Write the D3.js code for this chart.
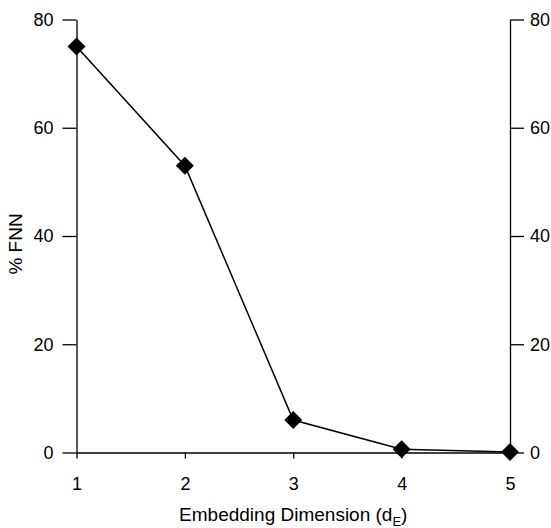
<!DOCTYPE html>
<html>
<head>
<meta charset="utf-8">
<script src="https://cdn.jsdelivr.net/npm/d3@7"></script>
<style>
  body { margin: 0; background: #fff; }
  text { font-family: "Liberation Sans", Arial, sans-serif; }
</style>
</head>
<body>
<div id="chart"></div>
<script>
// embedding dimension vs percent false nearest neighbours
var dims = [1, 2, 3, 4, 5];
var fnn = [75, 53, 6, 0.6, 0.1];
var yTicks = [0, 20, 40, 60, 80];

var width = 551, height = 528;
var margin = { left: 76.5, right: 41, top: 19.5, bottom: 75.5 };

var svg = d3.select("#chart").append("svg")
  .attr("width", width)
  .attr("height", height);

var x = d3.scaleLinear().domain([1, 5]).range([margin.left, width - margin.right]);
var y = d3.scaleLinear().domain([0, 80]).range([height - margin.bottom, margin.top]);

var fontSize = "18px";

// left axis
var gl = svg.append("g")
  .attr("transform", "translate(" + x(1) + ",0)")
  .call(d3.axisLeft(y).tickValues(yTicks).tickSizeInner(14).tickSizeOuter(0).tickPadding(9));

// right axis
var gr = svg.append("g")
  .attr("transform", "translate(" + x(5) + ",0)")
  .call(d3.axisRight(y).tickValues(yTicks).tickSizeInner(14).tickSizeOuter(0).tickPadding(6));

// bottom axis
var gb = svg.append("g")
  .attr("transform", "translate(0," + y(0) + ")")
  .call(d3.axisBottom(x).tickValues(dims).tickFormat(d3.format("d")).tickSizeInner(6).tickSizeOuter(0).tickPadding(19));

[gl, gr, gb].forEach(function(g) {
  g.selectAll("path, line").attr("stroke", "#000").attr("stroke-width", 1.3);
  g.selectAll("text").attr("fill", "#000").style("font-size", fontSize)
    .style("font-family", "'Liberation Sans', Arial, sans-serif");
});

// axis titles
var xt = svg.append("text")
  .attr("x", (x(1) + x(5)) / 2)
  .attr("y", 521)
  .attr("text-anchor", "middle")
  .style("font-size", "19px");
xt.append("tspan").text("Embedding Dimension (d");
xt.append("tspan").text("E").attr("dy", 5).style("font-size", "13px");
xt.append("tspan").text(")").attr("dy", -5);

svg.append("text")
  .attr("transform", "translate(22,244) rotate(-90)")
  .attr("text-anchor", "middle")
  .style("font-size", "19px")
  .text("% FNN");

var pts = dims.map(function(d, i) { return { d: d, v: fnn[i] }; });

svg.append("path")
  .datum(pts)
  .attr("fill", "none")
  .attr("stroke", "#000")
  .attr("stroke-width", 1.5)
  .attr("d", d3.line().x(function(p) { return x(p.d); }).y(function(p) { return y(p.v); }));

svg.selectAll(".pt")
  .data(pts)
  .enter().append("path")
  .attr("class", "pt")
  .attr("transform", function(p) { return "translate(" + x(p.d) + "," + y(p.v) + ")"; })
  .attr("d", "M0,-9L9,0L0,9L-9,0Z")
  .attr("fill", "#000");
</script>
</body>
</html>
